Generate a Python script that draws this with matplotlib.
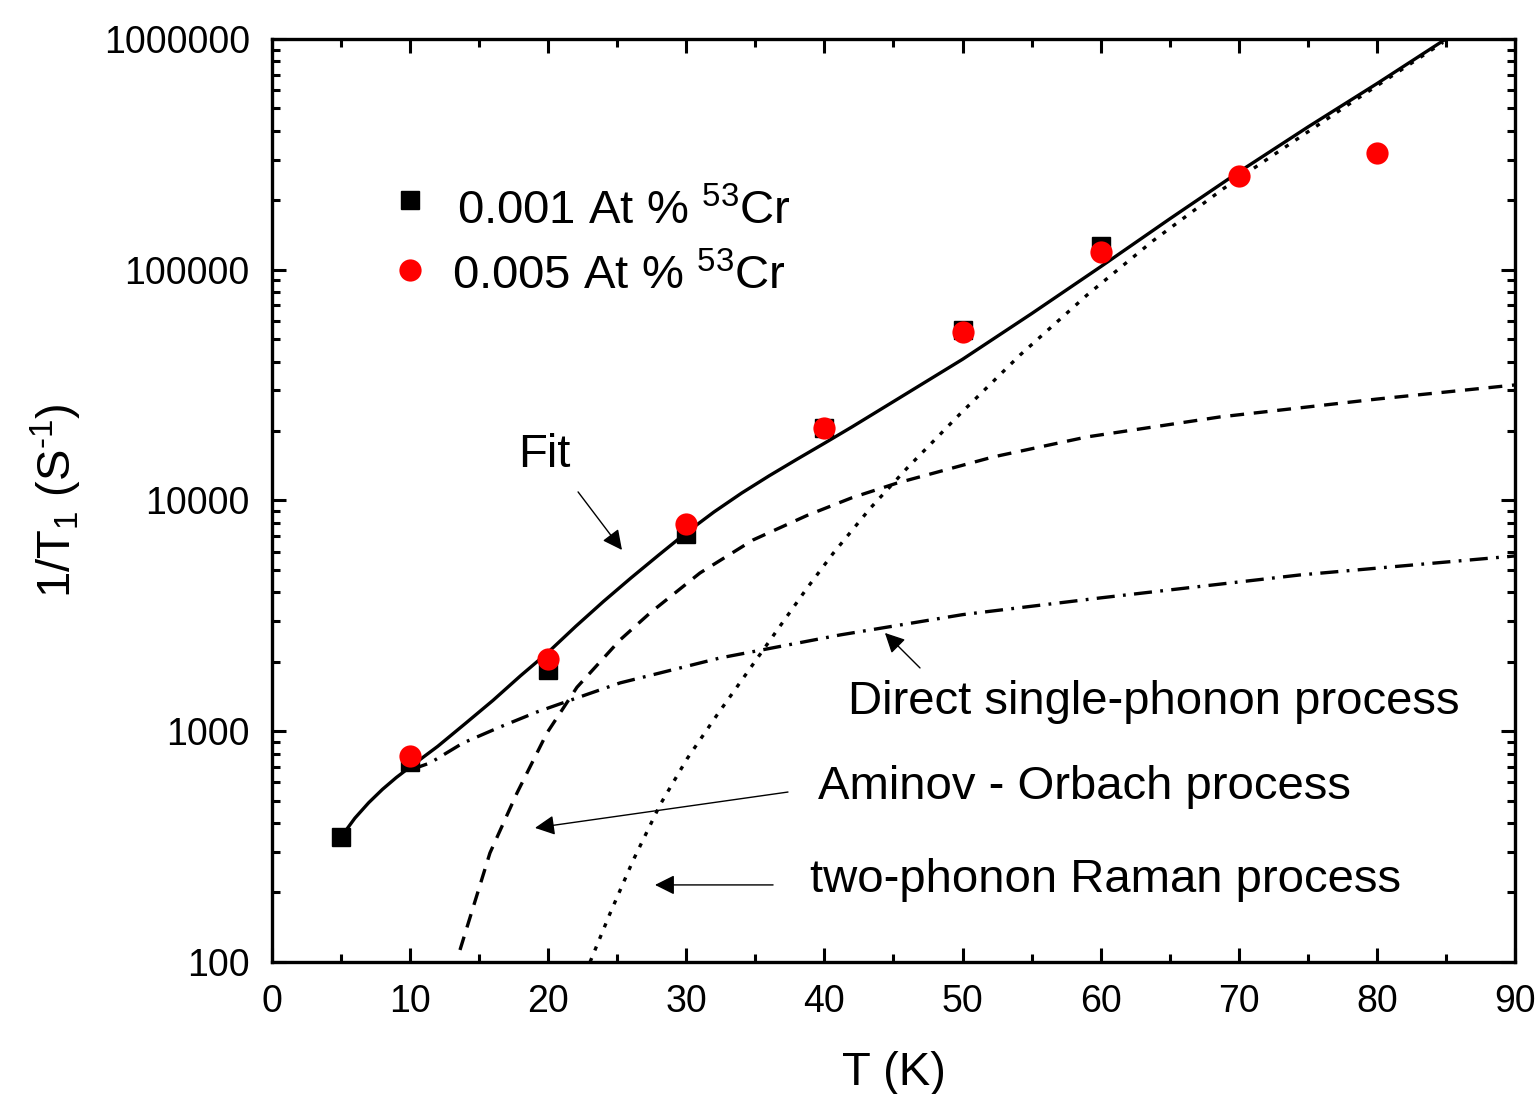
import matplotlib
matplotlib.use("Agg")
import matplotlib.pyplot as plt
from matplotlib.ticker import MultipleLocator, LogLocator, FuncFormatter, NullFormatter

plt.rcParams['font.family'] = ['Liberation Sans', 'DejaVu Sans']
plt.rcParams['mathtext.fontset'] = 'custom'
plt.rcParams['mathtext.rm'] = 'Liberation Sans'
plt.rcParams['mathtext.it'] = 'Liberation Sans:italic'
plt.rcParams['lines.scale_dashes'] = False

# measured relaxation rates
t_001 = [5, 10, 20, 30, 40, 50, 60]
rate_001 = [348, 736, 1840, 7160, 20600, 54800, 126800]

t_005 = [10, 20, 30, 40, 50, 60, 70, 80]
rate_005 = [782, 2056, 7910, 20600, 53700, 119400, 254800, 320500]

# curves
t_fit = [5, 6, 7, 8, 9, 10, 12, 14, 16, 18, 20, 22, 24, 26, 28, 30, 32, 34, 36, 38, 40,
         42, 45, 50, 55, 60, 65, 70, 75, 80, 85]
rate_fit = [348, 420, 490, 560, 630, 700, 860, 1080, 1360, 1740, 2200, 2850, 3650,
            4620, 5800, 7250, 8913, 10760, 12790, 15070, 17700, 20840, 26830, 40900,
            64500, 103000, 166000, 265000, 415000, 640000, 1000000]

t_orbach = [13.61, 15.78, 17.74, 19.91, 22.08, 25.2, 27.37, 30.99, 34.83, 38.74, 42,
            45.25, 52.21, 59.01, 68.64, 80, 90]
rate_orbach = [112.7, 296.8, 540, 983, 1550, 2486, 3254, 4851, 6742, 8610, 10280,
               11890, 15433, 18850, 23010, 27500, 31660]

t_raman = [23.03, 24.47, 26.14, 28.09, 30.05, 32.22, 34.83, 36.78, 38.74, 40.62, 43.3,
           45.98, 49.82, 54.16, 59.01, 63.79, 68.86, 78.05, 84.79]
rate_raman = [100, 162, 275, 479, 759, 1175, 1950, 2851, 4169, 5888, 9226, 13800,
              23710, 42660, 77620, 133400, 223900, 524800, 966100]

t_direct = [10, 11.44, 13.83, 16.51, 19.19, 22.08, 25.2, 28.09, 32.44, 41.13, 50, 59.95, 74.43, 90]
rate_direct = [679, 728.5, 889, 1043, 1212, 1394, 1619, 1788, 2077, 2613, 3200, 3780, 4755, 5747]

fig = plt.figure(figsize=(15.36, 10.94), dpi=100)
ax = fig.add_axes([0.1771, 0.1207, 0.8092, 0.8437])

ax.plot(t_fit, rate_fit, color='black', lw=2.4, zorder=3)
ax.plot(t_orbach, rate_orbach, color='black', lw=2.4, linestyle=(0, (10, 7)), zorder=2)
ax.plot(t_raman, rate_raman, color='black', lw=2.4, linestyle=(0, (3, 6)), zorder=2)
ax.plot(t_direct, rate_direct, color='black', lw=2.4, linestyle=(0, (13, 6, 2, 6)), zorder=2)

ax.plot(t_001, rate_001, linestyle='none', marker='s', ms=13, color='black', zorder=4)
ax.plot(t_005, rate_005, linestyle='none', marker='o', ms=16, color='#ff0000',
        markeredgewidth=0, zorder=5)

ax.set_yscale('log')
ax.set_xlim(0, 90)
ax.set_ylim(100, 1000000)

ax.xaxis.set_major_locator(MultipleLocator(10))
ax.xaxis.set_minor_locator(MultipleLocator(5))
ax.yaxis.set_major_locator(LogLocator(base=10))
ax.yaxis.set_minor_locator(LogLocator(base=10, subs=range(2, 10)))
ax.yaxis.set_major_formatter(FuncFormatter(lambda v, p: f"{int(round(v))}"))
ax.yaxis.set_minor_formatter(NullFormatter())

ax.tick_params(which='both', direction='in', top=True, right=True, width=2.2)
ax.tick_params(which='major', length=10, labelsize=27)
ax.tick_params(which='minor', length=6)
ax.tick_params(axis='x', pad=16)
ax.tick_params(axis='y', pad=16)
for s in ax.spines.values():
    s.set_linewidth(2.4)

ax.set_xlabel('T (K)', fontsize=34, labelpad=22)
ax.set_ylabel('1/T$_1$ (S$^{\u2010 1}$)', fontsize=34, labelpad=14)

# legend drawn by hand to match the original placement
ax.plot([0.111], [0.8256], transform=ax.transAxes, marker='s', ms=13, color='black',
        linestyle='none', clip_on=False)
ax.text(0.1488, 0.8126, '0.001 At % $^{53}$Cr', transform=ax.transAxes, fontsize=34, va='center')
ax.plot([0.111], [0.7497], transform=ax.transAxes, marker='o', ms=16, color='#ff0000',
        markeredgewidth=0, linestyle='none', clip_on=False)
ax.text(0.1448, 0.7422, '0.005 At % $^{53}$Cr', transform=ax.transAxes, fontsize=34, va='center')

arrow = dict(arrowstyle='-|>', color='black', lw=1.0, mutation_scale=30, shrinkA=0, shrinkB=0)
ax.text(17.81, 15740, 'Fit', fontsize=34, va='center')
ax.annotate('', xy=(25.34, 6101), xytext=(22.16, 10890), arrowprops=arrow)
ax.text(41.71, 1339, 'Direct single-phonon process', fontsize=34, va='center')
ax.annotate('', xy=(44.38, 2666), xytext=(46.92, 1880), arrowprops=arrow)
ax.text(39.53, 573, 'Aminov - Orbach process', fontsize=34, va='center')
ax.annotate('', xy=(19.04, 381), xytext=(37.36, 545), arrowprops=arrow)
ax.text(38.95, 226.7, 'two-phonon Raman process', fontsize=34, va='center')
ax.annotate('', xy=(27.73, 215.7), xytext=(36.28, 215.7), arrowprops=arrow)

fig.savefig('out.png', dpi=100)
